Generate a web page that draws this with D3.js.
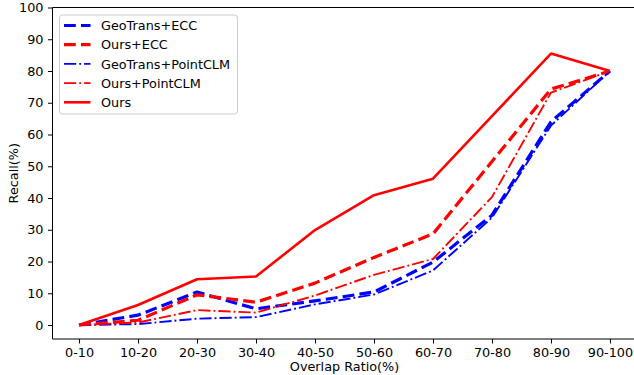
<!DOCTYPE html>
<html>
<head>
<meta charset="utf-8">
<script src="https://cdn.jsdelivr.net/npm/d3@7"></script>
<style>
  body { margin: 0; background: #fff; }
  svg { display: block; font-family: "DejaVu Sans", sans-serif; }
</style>
</head>
<body>
<svg width="634" height="375"></svg>
<script>
// categories on the x axis
const CATEGORIES = ['0-10', '10-20', '20-30', '30-40', '40-50', '50-60', '60-70', '70-80', '80-90', '90-100'];

// recall values (%) per method
const GEO_ECC = [0, 3.1, 10.4, 5.1, 7.6, 10.4, 19.8, 34.6, 64.0, 80];
const OURS_ECC = [0, 1.5, 9.5, 7.2, 13.2, 21.3, 28.7, 51.5, 74.3, 80];
const GEO_PCLM = [0, 0.3, 2.0, 2.5, 6.5, 9.6, 17.2, 33.8, 62.8, 80];
const OURS_PCLM = [0, 0.8, 4.7, 3.9, 9.3, 15.8, 20.8, 40.3, 73.2, 80];
const OURS = [0, 6.3, 14.4, 15.3, 29.9, 40.9, 46.1, 65.8, 85.5, 80];

const Y_TICKS = [0, 10, 20, 30, 40, 50, 60, 70, 80, 90, 100];

// series in drawing order (same as legend)
const series = [
    { name: 'GeoTrans+ECC', values: GEO_ECC, color: 'blue', width: 3.2, dash: '11.8,5.2' },
    { name: 'Ours+ECC', values: OURS_ECC, color: 'red', width: 3.2, dash: '11.8,5.2' },
    { name: 'GeoTrans+PointCLM', values: GEO_PCLM, color: 'blue', width: 1.9, dash: '12.2,3,1.9,3' },
    { name: 'Ours+PointCLM', values: OURS_PCLM, color: 'red', width: 1.9, dash: '12.2,3,1.9,3' },
    { name: 'Ours', values: OURS, color: 'red', width: 2.6, dash: null }
];

const FONT = 12.8;

// plot area
const PLOT = { left: 52.5, top: 7.5, right: 636.5, bottom: 339 };

const svg = d3.select('svg');

const x = d3.scalePoint()
    .domain(CATEGORIES)
    .range([PLOT.left, PLOT.right])
    .padding(0.45);

const y = d3.scaleLinear()
    .domain([-4.4, 100])
    .range([PLOT.bottom, PLOT.top]);

// axes
const xAxis = svg.append('g')
    .attr('transform', `translate(0, ${PLOT.bottom})`)
    .call(d3.axisBottom(x).tickSize(4.5).tickPadding(4.5).tickSizeOuter(0));

const yAxis = svg.append('g')
    .attr('transform', `translate(${PLOT.left}, 0)`)
    .call(d3.axisLeft(y).tickValues(Y_TICKS).tickSize(4.5).tickPadding(4.5).tickSizeOuter(0));

[xAxis, yAxis].forEach(g => {
    g.selectAll('text').attr('font-size', FONT).attr('fill', '#000').attr('font-family', '"DejaVu Sans", sans-serif');
    g.selectAll('line').attr('stroke', '#000').attr('stroke-width', 1);
    g.select('.domain').attr('stroke', '#000').attr('stroke-width', 1);
});
xAxis.select('.domain').attr('d', `M${PLOT.left},0H${PLOT.right}`);
yAxis.select('.domain').attr('d', `M0,${PLOT.bottom}V${PLOT.top}`);

// top spine
svg.append('line')
    .attr('x1', PLOT.left).attr('x2', PLOT.right)
    .attr('y1', PLOT.top).attr('y2', PLOT.top)
    .attr('stroke', '#000').attr('stroke-width', 1);

// axis titles
svg.append('text')
    .attr('x', (PLOT.left + PLOT.right) / 2)
    .attr('y', 371)
    .attr('text-anchor', 'middle')
    .attr('font-size', FONT)
    .text('Overlap Ratio(%)');

svg.append('text')
    .attr('transform', `translate(18, ${(PLOT.top + PLOT.bottom) / 2}) rotate(-90)`)
    .attr('text-anchor', 'middle')
    .attr('font-size', FONT)
    .text('Recall(%)');

// lines
const line = d3.line()
    .x((d, i) => x(CATEGORIES[i]))
    .y(d => y(d));

svg.append('g')
    .selectAll('path')
    .data(series)
    .join('path')
    .attr('d', d => line(d.values))
    .attr('fill', 'none')
    .attr('stroke', d => d.color)
    .attr('stroke-width', d => d.width)
    .attr('stroke-dasharray', d => d.dash)
    .attr('stroke-linejoin', 'round');

// legend
const legend = svg.append('g').attr('transform', 'translate(59.5, 15)');
legend.append('rect')
    .attr('width', 178)
    .attr('height', 99)
    .attr('rx', 3)
    .attr('fill', 'rgba(255,255,255,0.8)')
    .attr('stroke', '#cccccc')
    .attr('stroke-width', 1);

const items = legend.selectAll('.item')
    .data(series)
    .join('g')
    .classed('item', true)
    .attr('transform', (d, i) => `translate(0, ${10.5 + i * 19.2})`);

items.append('line')
    .attr('x1', 4.5).attr('x2', 31)
    .attr('y1', 0).attr('y2', 0)
    .attr('stroke', d => d.color)
    .attr('stroke-width', d => d.width)
    .attr('stroke-dasharray', d => d.dash);

items.append('text')
    .attr('x', 41.5)
    .attr('y', 0)
    .attr('dy', '0.36em')
    .attr('font-size', FONT)
    .text(d => d.name);
</script>
</body>
</html>
